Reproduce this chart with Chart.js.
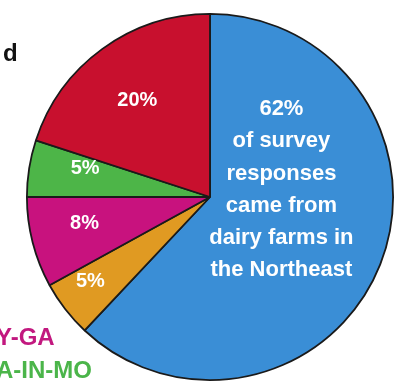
<!DOCTYPE html>
<html>
<head>
<meta charset="utf-8">
<script src="https://cdn.jsdelivr.net/npm/chart.js@4/dist/chart.umd.min.js"></script>
<style>
html,body{margin:0;padding:0;background:#fff;}
#wrap{position:relative;width:409px;height:391px;overflow:hidden;}
canvas{display:block;}
</style>
</head>
<body>
<div id="wrap"><canvas id="c" width="409" height="391"></canvas></div>
<script>
// Data (clockwise from 12 o'clock)
const categories = ["Northeast", "Southeast", "Southeast (KY-GA)", "Midwest (IA-IN-MO)", "Other"];
const shares = [62, 5, 8, 5, 20];
const sliceLabels = ["62%", "5%", "8%", "5%", "20%"];
const colors = ["#3a8ed6", "#e09a22", "#c8127e", "#4db548", "#c8102e"];
const blueNote = ["62%", "of survey", "responses", "came from", "dairy farms in", "the Northeast"];
const sideTexts = [
  { text: "d", color: "#111111" },
  { text: "Y-GA", color: "#c2187f" },
  { text: "A-IN-MO", color: "#4bb54a" }
];

// label placement: radius fraction and angular nudge (degrees) per slice
const labelRadius = [0, 0.80, 0.70, 0.70, 0.66];
const labelNudge = [0, 2.5, 2.7, 4, -1];

const labelPlugin = {
  id: 'sliceLabels',
  afterDatasetsDraw(chart) {
    const ctx = chart.ctx;
    const meta = chart.getDatasetMeta(0);
    ctx.save();
    ctx.fillStyle = "#ffffff";
    ctx.textAlign = "center";
    ctx.textBaseline = "middle";
    meta.data.forEach((arc, i) => {
      const p = arc.getProps(['x','y','startAngle','endAngle','outerRadius'], true);
      const mid = (p.startAngle + p.endAngle) / 2 + labelNudge[i] * Math.PI / 180;
      if (i === 0) {
        ctx.font = "bold 22px 'Liberation Sans', Arial, sans-serif";
        const cx = p.x + p.outerRadius * 0.39;
        const top = p.y - p.outerRadius * 0.48;
        const lh = p.outerRadius * 0.176;
        blueNote.forEach((line, k) => {
          ctx.fillText(line, cx, top + k * lh);
        });
      } else {
        ctx.font = "bold 20px 'Liberation Sans', Arial, sans-serif";
        const rf = labelRadius[i];
        const tx = p.x + Math.cos(mid) * p.outerRadius * rf;
        const ty = p.y + Math.sin(mid) * p.outerRadius * rf;
        ctx.fillText(sliceLabels[i], tx, ty);
      }
    });
    ctx.restore();
  }
};

const sidePlugin = {
  id: 'sideTexts',
  afterDraw(chart) {
    const ctx = chart.ctx;
    const meta = chart.getDatasetMeta(0);
    const arc = meta.data[0];
    const cy = arc.y, r = arc.outerRadius;
    ctx.save();
    ctx.textAlign = "left";
    ctx.textBaseline = "middle";
    ctx.font = "bold 24px 'Liberation Sans', Arial, sans-serif";
    ctx.fillStyle = sideTexts[0].color;
    ctx.fillText(sideTexts[0].text, 3, cy - r * 0.78);
    ctx.fillStyle = sideTexts[1].color;
    ctx.fillText(sideTexts[1].text, -4, cy + r * 0.77);
    ctx.fillStyle = sideTexts[2].color;
    ctx.fillText(sideTexts[2].text, -4, cy + r * 0.95);
    ctx.restore();
  }
};

new Chart(document.getElementById('c'), {
  type: 'pie',
  data: {
    labels: categories,
    datasets: [{
      data: shares,
      backgroundColor: colors,
      borderColor: "#1a1a1a",
      borderWidth: 1.8
    }]
  },
  options: {
    responsive: false,
    animation: false,
    layout: { padding: { top: 13, bottom: 10, left: 26, right: 15 } },
    plugins: {
      legend: { display: false },
      tooltip: { enabled: false }
    }
  },
  plugins: [labelPlugin, sidePlugin]
});
</script>
</body>
</html>
